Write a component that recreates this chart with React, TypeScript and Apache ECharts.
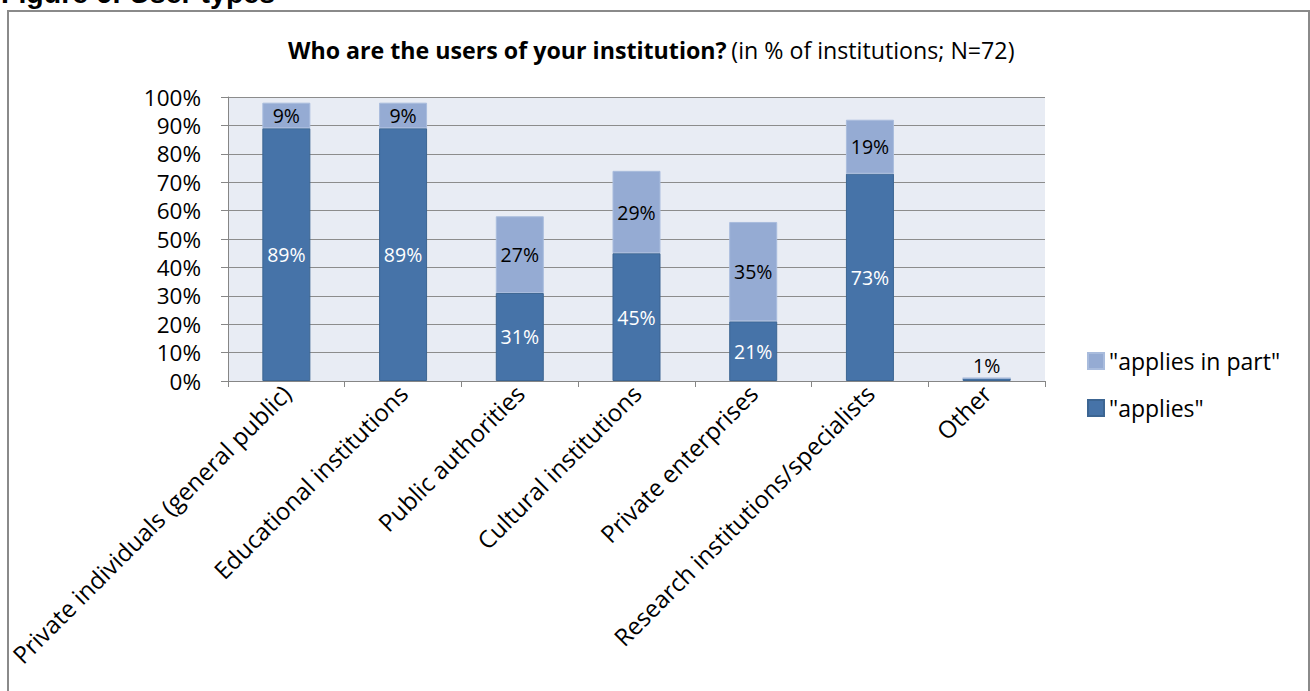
import React, { useEffect, useRef } from "react";
import * as echarts from "echarts";

const categories = [
  "Private individuals (general public)",
  "Educational institutions",
  "Public authorities",
  "Cultural institutions",
  "Private enterprises",
  "Research institutions/specialists",
  "Other",
];
const applies = [89, 89, 31, 45, 21, 73, 1];
const appliesInPart = [9, 9, 27, 29, 35, 19, 0];
const yTicks = { min: 0, max: 100, interval: 10 };
const seriesNames = ['"applies"', '"applies in part"'];

const FONT = "Open Sans";

export default function App() {
  const ref = useRef<HTMLDivElement>(null);
  useEffect(() => {
    document.body.style.margin = "0";
    const chart = echarts.init(ref.current!, null, { renderer: "svg" });
    const darkData = applies.map((v, i) => {
      const onlyDark = appliesInPart[i] === 0;
      return {
        value: v,
        label: onlyDark
          ? { show: true, position: "top", color: "#000", distance: 3 }
          : { show: true, position: "inside", color: "#fff" },
      };
    });
    const lightData = appliesInPart.map((v) => ({
      value: v,
      label: { show: v > 0 },
    }));
    chart.setOption({
      animation: false,
      backgroundColor: "#fff",
      textStyle: { fontFamily: FONT },
      title: {
        left: 283,
        top: 33,
        text: "{b|Who are the users of your institution?} {n|(in % of institutions; N=72)}",
        textStyle: {
          rich: {
            b: { fontFamily: FONT, fontWeight: "bold", fontSize: 23.2, color: "#000" },
            n: { fontFamily: FONT, fontWeight: "normal", fontSize: 23.2, color: "#000" },
          },
        },
      },
      legend: {
        orient: "vertical",
        left: 1082,
        top: 344,
        itemWidth: 16,
        itemHeight: 16,
        itemGap: 23,
        icon: "rect",
        data: [seriesNames[1], seriesNames[0]],
        textStyle: {
          fontFamily: FONT,
          fontSize: 23,
          lineHeight: 24,
          color: "#000",
        },
      },
      grid: {
        left: 228,
        right: 265,
        top: 97,
        bottom: 310,
        show: true,
        backgroundColor: "#E8ECF4",
        borderWidth: 0,
      },
      xAxis: {
        type: "category",
        data: categories,
        axisLine: { show: true, lineStyle: { color: "#868686", width: 1 } },
        axisTick: { show: true, length: 6, lineStyle: { color: "#868686" } },
        axisLabel: {
          rotate: 45,
          interval: 0,
          margin: 8,
          fontFamily: FONT,
          fontSize: 24,
          color: "#000",
        },
      },
      yAxis: {
        type: "value",
        min: yTicks.min,
        max: yTicks.max,
        interval: yTicks.interval,
        axisLine: { show: true, lineStyle: { color: "#868686", width: 1 } },
        axisTick: { show: true, inside: false, length: 7, lineStyle: { color: "#868686" } },
        splitLine: { show: true, lineStyle: { color: "#8C8C8C", width: 1 } },
        axisLabel: {
          formatter: "{value}%",
          margin: 27,
          fontFamily: FONT,
          fontSize: 22.5,
          color: "#000",
        },
      },
      series: [
        {
          name: seriesNames[0],
          type: "bar",
          stack: "total",
          barWidth: 48,
          data: darkData,
          itemStyle: { color: "#4673A8", borderColor: "#3C6592", borderWidth: 1 },
          label: {
            show: true,
            formatter: "{c}%",
            fontFamily: FONT,
            fontSize: 19.5,
          },
        },
        {
          name: seriesNames[1],
          type: "bar",
          stack: "total",
          barWidth: 48,
          data: lightData,
          itemStyle: { color: "#95ABD3", borderColor: "#A9BCDD", borderWidth: 1 },
          label: {
            show: true,
            position: "inside",
            formatter: "{c}%",
            color: "#000",
            fontFamily: FONT,
            fontSize: 19.5,
          },
        },
      ],
      graphic: [
        {
          type: "rect",
          shape: { x: 8, y: 11, width: 1301, height: 700 },
          style: { fill: "none", stroke: "#8A8A8A", lineWidth: 2 },
          silent: true,
        },
        {
          type: "text",
          x: 1,
          y: 7,
          style: {
            text: "Figure 6: User types",
            fontFamily: "Liberation Sans",
            fontWeight: "bold",
            fontSize: 28.5,
            fill: "#000",
            textVerticalAlign: "bottom",
          },
          silent: true,
        },
      ],
    });
    return () => chart.dispose();
  }, []);
  return <div ref={ref} style={{ width: 1310, height: 691 }} />;
}
